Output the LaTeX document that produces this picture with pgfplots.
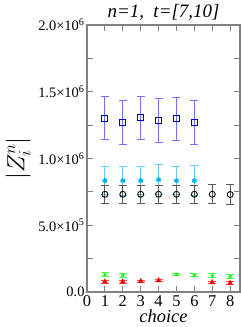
\documentclass[border=0pt]{standalone}
\usepackage{pgfplots}
\pgfplotsset{compat=1.18}
\usepackage{fontspec}
\setmainfont{Liberation Serif}
\begin{document}
\begin{tikzpicture}
\useasboundingbox (0,0) rectangle (241bp,327bp);
\begin{axis}[at={(87bp,35bp)}, anchor=south west, scale only axis,
  width=153bp, height=267bp,
  xmin=0, xmax=8.55, ymin=0, ymax=2e6,
  xtick={0,1,2,3,4,5,6,7,8}, xticklabels={0,1,2,3,4,5,6,7,8},
  ytick={0,5e5,1e6,1.5e6,2e6},
  minor ytick={2.5e5,7.5e5,1.25e6,1.75e6},
  yticklabels={0.0,5.0×10\textsuperscript{5},1.0×10\textsuperscript{6},1.5×10\textsuperscript{6},2.0×10\textsuperscript{6}},
  scaled y ticks=false,
  tick align=inside, major tick length=6bp, minor tick length=6bp,
  axis line style={black!50, line width=1.3pt},
  every tick/.style={black!50, line width=1.1pt},
  yticklabel style={font=\fontsize{14.5}{15}\selectfont, xshift=1bp},
  xticklabel style={font=\fontsize{16.5}{17}\selectfont, yshift=0bp},
  title={\itshape n=1,\ \ t=[7,10]},
  title style={font=\fontsize{19}{20}\selectfont, yshift=-5bp},
  xlabel={\itshape choice},
  xlabel style={font=\fontsize{18.5}{19}\selectfont, yshift=1bp, inner sep=1bp},
  ylabel={$|Z_i^n|$},
  ylabel style={font=\fontsize{26}{27}\selectfont, at={(axis description cs:-0.45,0.50)}, anchor=center},
  clip=false,
]
% blue squares
\addplot[only marks, mark=square, mark size=3bp, blue!80!black, mark options={line width=0.9pt},
  error bars/.cd, y dir=both, y explicit,
  error bar style={blue!55, line width=1pt},
  error mark options={rotate=90, mark size=4bp, blue!55, line width=1pt}]
  coordinates {
  (1,1.301e6) +- (0,0.160e6)
  (2,1.271e6) +- (0,0.164e6)
  (3,1.306e6) +- (0,0.161e6)
  (4,1.286e6) +- (0,0.165e6)
  (5,1.298e6) +- (0,0.160e6)
  (6,1.271e6) +- (0,0.164e6)
  };
% cyan stars
\addplot[only marks, mark=asterisk, mark size=2.5bp, cyan, mark options={line width=1.4pt},
  error bars/.cd, y dir=both, y explicit,
  error bar style={cyan!60, line width=1pt},
  error mark options={rotate=90, mark size=4bp, cyan!60, line width=1pt}]
  coordinates {
  (1,0.834e6) +- (0,0.105e6)
  (2,0.834e6) +- (0,0.108e6)
  (3,0.834e6) +- (0,0.105e6)
  (4,0.841e6) +- (0,0.113e6)
  (5,0.834e6) +- (0,0.105e6)
  (6,0.834e6) +- (0,0.110e6)
  };
% black circles
\addplot[only marks, mark=o, mark size=3bp, black, mark options={line width=0.9pt},
  error bars/.cd, y dir=both, y explicit,
  error bar style={black!65, line width=1pt},
  error mark options={rotate=90, mark size=4bp, black!65, line width=1pt}]
  coordinates {
  (1,0.732e6) +- (0,0.068e6)
  (2,0.732e6) +- (0,0.068e6)
  (3,0.732e6) +- (0,0.068e6)
  (4,0.732e6) +- (0,0.068e6)
  (5,0.732e6) +- (0,0.068e6)
  (6,0.732e6) +- (0,0.068e6)
  (7,0.732e6) +- (0,0.072e6)
  (8,0.730e6) +- (0,0.072e6)
  };
% green
\addplot[only marks, mark=x, mark size=2bp, green, mark options={line width=1pt},
  error bars/.cd, y dir=both, y explicit,
  error bar style={green!70, line width=1pt},
  error mark options={rotate=90, mark size=4bp, green!70, line width=1pt}]
  coordinates {
  (1,0.130e6) +- (0,0.017e6)
  (2,0.125e6) +- (0,0.017e6)
  (5,0.132e6) +- (0,0.010e6)
  (6,0.125e6) +- (0,0.012e6)
  (7,0.120e6) +- (0,0.015e6)
  (8,0.115e6) +- (0,0.016e6)
  };
% red
\addplot[only marks, mark=triangle*, mark size=2.5bp, red, mark options={line width=0.8pt},
  error bars/.cd, y dir=both, y explicit,
  error bar style={red!70, line width=1pt},
  error mark options={rotate=90, mark size=4bp, red!70, line width=1pt}]
  coordinates {
  (1,0.077e6) +- (0,0.012e6)
  (2,0.077e6) +- (0,0.012e6)
  (3,0.080e6) +- (0,0.006e6)
  (4,0.087e6) +- (0,0.006e6)
  (7,0.072e6) +- (0,0.010e6)
  (8,0.067e6) +- (0,0.010e6)
  };
\end{axis}
\end{tikzpicture}
\end{document}
